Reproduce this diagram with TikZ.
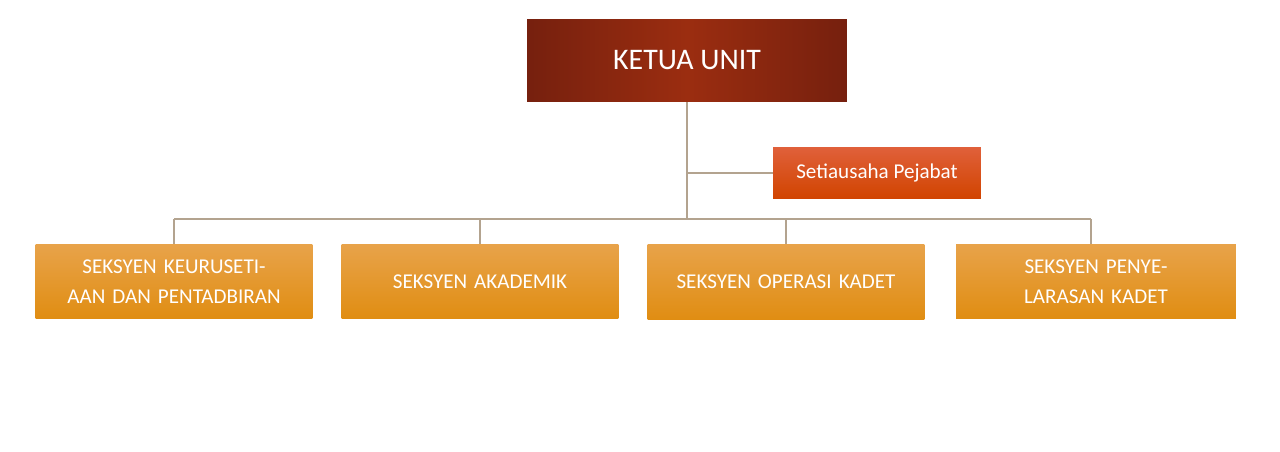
\documentclass[tikz,border=0pt]{standalone}
\usepackage{fontspec}
\setmainfont{Carlito}
\definecolor{headred}{HTML}{9B2D10}
\definecolor{headdark}{HTML}{76200E}
\definecolor{secred}{HTML}{E0603A}
\definecolor{secdark}{HTML}{D14400}
\definecolor{unittop}{HTML}{E8A34A}
\definecolor{unitbot}{HTML}{E08D12}
\definecolor{linktan}{HTML}{B3A38F}
\tikzset{
  headbox/.style={minimum width=6.4cm, minimum height=1.66cm, left color=headdark, right color=headdark, middle color=headred, text=white, font=\fontsize{17}{20}\selectfont},
  secbox/.style={minimum width=4.16cm, minimum height=1.02cm, top color=secred, bottom color=secdark, text=white, font=\fontsize{12}{14}\selectfont},
  unitbox/.style={minimum width=5.4cm, minimum height=1.5cm, top color=unittop, bottom color=unitbot, text=white, align=center, text width=5.3cm, font=\fontsize{12}{17}\selectfont},
  link/.style={draw=linktan, line width=0.9pt}
}
\begin{document}
\begin{tikzpicture}[x=0.02cm,y=-0.02cm]
	\useasboundingbox (0,0) rectangle (1280,452);
	\node[headbox] (ketua) at (687,60.5) {KETUA UNIT};
	\node[secbox] (setia) at (877,173) {Setiausaha Pejabat};
	\node[unitbox] (s1) at (174,281.5) {SEKSYEN KEURUSETIAAN DAN PENTADBIRAN};
	\node[unitbox] (s2) at (480,281.5) {SEKSYEN AKADEMIK};
	\node[unitbox, minimum height=1.52cm] (s3) at (786,282) {SEKSYEN OPERASI KADET};
	\node[unitbox, minimum width=5.6cm] (s4) at (1096,281.5) {SEKSYEN PENYELARASAN KADET};
	\coordinate (bus) at (687,219);
	\draw[link] (ketua.south) -- (bus);
	\draw[link] (setia.west) -- (setia.west -| ketua.south);
	\draw[link] (bus -| s1.north) -- (bus -| 1091,0);
	\draw[link] (bus -| s1.north) -- (s1.north);
	\draw[link] (bus -| s2.north) -- (s2.north);
	\draw[link] (bus -| s3.north) -- (s3.north);
	\draw[link] (bus -| 1091,0) -- (1091,244);
\end{tikzpicture}
\end{document}
